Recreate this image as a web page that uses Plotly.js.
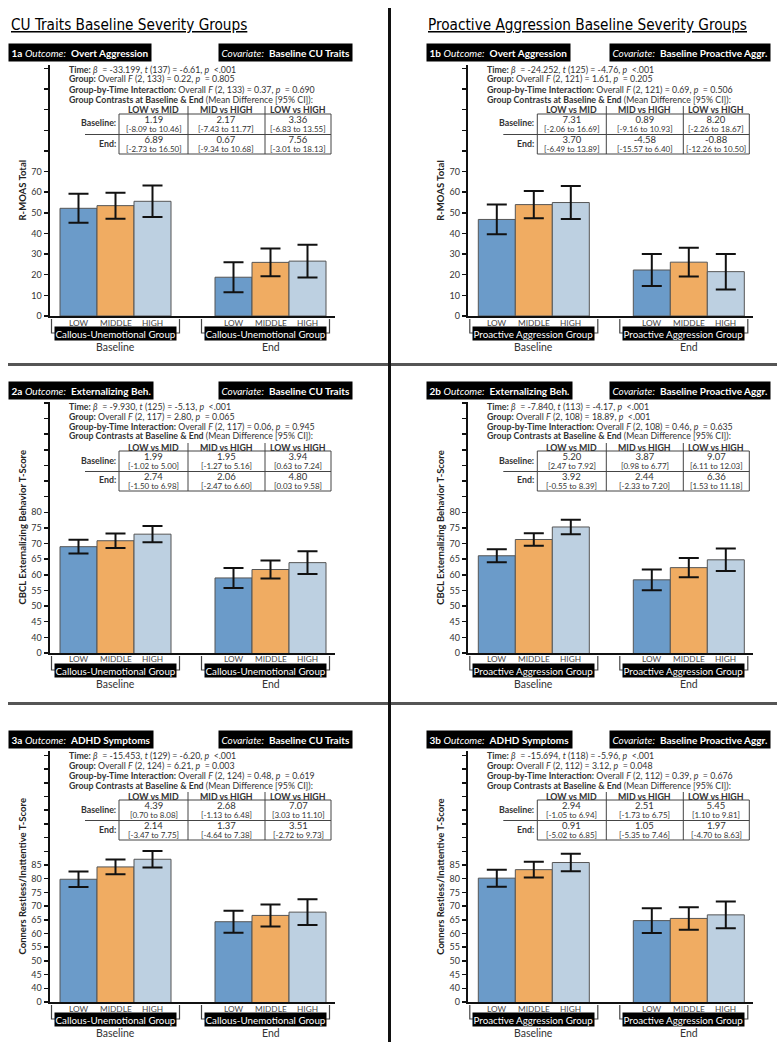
<!DOCTYPE html>
<html>
<head>
<meta charset="utf-8">
<script src="https://cdn.plot.ly/plotly-3.0.1.min.js"></script>
<style>
  html, body { margin: 0; padding: 0; background: #fff; }
  #chart { width: 777px; height: 1050px; }
</style>
</head>
<body>
<div id="chart"></div>
<script>
// panels in reading order: 1a, 1b, 2a, 2b, 3a, 3b
var panelIds = ['1a', '1b', '2a', '2b', '3a', '3b'];
var outcomes = ['Overt Aggression', 'Overt Aggression', 'Externalizing Beh.', 'Externalizing Beh.', 'ADHD Symptoms', 'ADHD Symptoms'];
var covariates = ['Baseline CU Traits', 'Baseline Proactive Aggr.'];
var columnTitles = ['CU Traits Baseline Severity Groups', 'Proactive Aggression Baseline Severity Groups'];
var groupTitles = ['Callous-Unemotional Group', 'Proactive Aggression Group'];
var yTitles = ['R-MOAS Total', 'CBCL Externalizing Behavior T-Score', 'Conners Restless/Inattentive T-Score'];
var groups = ['LOW', 'MIDDLE', 'HIGH'];
var times = ['Baseline', 'End'];
var contrastNames = ['LOW vs MID', 'MID vs HIGH', 'LOW vs HIGH'];

var tickLabels = [
  ['0', '10', '20', '30', '40', '50', '60', '70'],
  ['0', '40', '45', '50', '55', '60', '65', '70', '75', '80'],
  ['0', '40', '45', '50', '55', '60', '65', '70', '75', '80', '85']
];

// means [Baseline, End] per panel
var lowMeans  = [[52.2, 18.8], [46.8, 22.3], [69.0, 59.0], [66.1, 58.4], [79.8, 64.3], [80.2, 64.7]];
var midMeans  = [[53.5, 26.0], [54.0, 26.1], [70.9, 61.7], [71.3, 62.3], [84.3, 66.6], [83.3, 65.5]];
var highMeans = [[55.6, 26.6], [55.0, 21.5], [73.0, 63.9], [75.3, 64.8], [87.1, 67.8], [85.9, 66.8]];
var lowErr  = [[7.0, 7.3], [7.2, 7.8], [2.2, 3.2], [2.1, 3.3], [2.8, 4.0], [3.1, 4.5]];
var midErr  = [[6.3, 6.7], [6.6, 7.0], [2.3, 2.9], [2.0, 3.1], [2.7, 4.0], [2.9, 4.1]];
var highErr = [[7.6, 7.9], [8.0, 8.6], [2.6, 3.6], [2.3, 3.6], [3.0, 4.7], [3.2, 4.9]];

// model results: [beta, df, t, p]
var timeStats = [['-33.199', '137', '-6.61', '<.001'], ['-24.252', '125', '-4.76', '<.001'],
  ['-9.930', '125', '-5.13', '<.001'], ['-7.840', '113', '-4.17', '<.001'],
  ['-15.453', '129', '-6.20', '<.001'], ['-15.694', '118', '-5.96', '<.001']];
// [df, F, p]
var groupStats = [['2, 133', '0.22', '= 0.805'], ['2, 121', '1.61', '= 0.205'],
  ['2, 117', '2.80', '= 0.065'], ['2, 108', '18.89', '<.001'],
  ['2, 124', '6.21', '= 0.003'], ['2, 112', '3.12', '= 0.048']];
var interactionStats = [['2, 133', '0.37', '= 0.690'], ['2, 121', '0.69', '= 0.506'],
  ['2, 117', '0.06', '= 0.945'], ['2, 108', '0.46', '= 0.635'],
  ['2, 124', '0.48', '= 0.619'], ['2, 112', '0.39', '= 0.676']];

// group contrasts [diff, lower, upper] for LOW vs MID, MID vs HIGH, LOW vs HIGH
var contrastsBaseline = [
  [['1.19', '-8.09', '10.46'], ['2.17', '-7.43', '11.77'], ['3.36', '-6.83', '13.55']],
  [['7.31', '-2.06', '16.69'], ['0.89', '-9.16', '10.93'], ['8.20', '-2.26', '18.67']],
  [['1.99', '-1.02', '5.00'], ['1.95', '-1.27', '5.16'], ['3.94', '0.63', '7.24']],
  [['5.20', '2.47', '7.92'], ['3.87', '0.98', '6.77'], ['9.07', '6.11', '12.03']],
  [['4.39', '0.70', '8.08'], ['2.68', '-1.13', '6.48'], ['7.07', '3.03', '11.10']],
  [['2.94', '-1.05', '6.94'], ['2.51', '-1.73', '6.75'], ['5.45', '1.10', '9.81']]
];
var contrastsEnd = [
  [['6.89', '-2.73', '16.50'], ['0.67', '-9.34', '10.68'], ['7.56', '-3.01', '18.13']],
  [['3.70', '-6.49', '13.89'], ['-4.58', '-15.57', '6.40'], ['-0.88', '-12.26', '10.50']],
  [['2.74', '-1.50', '6.98'], ['2.06', '-2.47', '6.60'], ['4.80', '0.03', '9.58']],
  [['3.92', '-0.55', '8.39'], ['2.44', '-2.33', '7.20'], ['6.36', '1.53', '11.18']],
  [['2.14', '-3.47', '7.75'], ['1.37', '-4.64', '7.38'], ['3.51', '-2.72', '9.73']],
  [['0.91', '-5.02', '6.85'], ['1.05', '-5.35', '7.46'], ['1.97', '-4.70', '8.63']]
];

var means = [lowMeans, midMeans, highMeans];
var errs = [lowErr, midErr, highErr];
var barColors = ['#6b9bc9', '#f0ac62', '#bdd0e1'];

// page geometry (px)
var W = 777, H = 1050;
function px(x) { return x / W; }
function py(y) { return 1 - y / H; }
var FONT = 'Lato, "Open Sans", sans-serif';
var colShift = 418.3;
var rowBase = [316, 653, 1002];
var axisHeight = 251;
var yFloor = [0, 35, 35];
var yScale = [2.063, 3.127, 2.74];
var tickStep = [10, 5, 5];
var plotLeft = 49.5, plotRight = 335, catCenter = 115.5, catStep = 155, barPx = 37;
var tableCols = [153.5, 226.5, 298];

function txt(text, x, y, size, opts) {
  var a = {xref: 'paper', yref: 'paper', x: px(x), y: py(y), text: text, showarrow: false,
    xanchor: 'center', yanchor: 'middle', borderpad: 0,
    font: {family: FONT, size: size, color: '#333'}};
  for (var k in opts) a[k] = opts[k];
  return a;
}
function line(x0, y0, x1, y1, color, width) {
  return {type: 'line', xref: 'paper', yref: 'paper', x0: px(x0), y0: py(y0), x1: px(x1), y1: py(y1),
    line: {color: color, width: width}};
}
// value on one line, CI on the next, tightly stacked in one text block
function cell(v) {
  return '<span style="font-size:9.5px">' + v[0] + '</span><br><span style="font-size:8px">[' +
    v[1] + ' to ' + v[2] + ']</span>';
}

var data = [];
var layout = {
  width: W, height: H,
  margin: {l: 0, r: 0, t: 0, b: 0},
  paper_bgcolor: '#fff', plot_bgcolor: '#fff',
  barmode: 'group', bargap: 1 - 3 * barPx / catStep, bargroupgap: 0,
  showlegend: false,
  annotations: [], shapes: []
};
var ann = layout.annotations, shp = layout.shapes;

columnTitles.forEach(function (t, c) {
  ann.push(txt('<u>' + t + '</u>', 10 + c * 417, 25, 15.2,
    {xanchor: 'left', font: {family: '"DejaVu Sans Condensed", "Liberation Sans", sans-serif', size: 15.2, color: '#000'}}));
});

panelIds.forEach(function (id, i) {
  var row = Math.floor(i / 2), col = i % 2, dx = col * colShift, base = rowBase[row];
  var n = i + 1, sfx = n === 1 ? '' : String(n);

  // y ticks: labelled ones from tickLabels, then blank ticks up to the top
  var top = yFloor[row] + axisHeight / yScale[row];
  var tv = tickLabels[row].map(function (l) { return Math.max(Number(l), yFloor[row]); });
  var tt = tickLabels[row].slice();
  for (var v = tv[tv.length - 1] + tickStep[row]; v <= top; v += tickStep[row]) { tv.push(v); tt.push(''); }

  layout['xaxis' + sfx] = {
    domain: [px(plotLeft + dx), px(plotRight + dx)],
    type: 'category', categoryarray: times,
    range: [(plotLeft - catCenter) / catStep, (plotRight - catCenter) / catStep],
    showticklabels: false, ticks: '', showgrid: false, zeroline: false,
    showline: true, linecolor: '#111', linewidth: 2, anchor: 'y' + sfx, fixedrange: true
  };
  layout['yaxis' + sfx] = {
    domain: [py(base), py(base - axisHeight)],
    range: [yFloor[row], top],
    tickvals: tv, ticktext: tt, ticks: 'outside', ticklen: 4, tickwidth: 1.5, tickcolor: '#111',
    tickfont: {family: FONT, size: 9, color: '#333'},
    showgrid: false, zeroline: false, showline: true, linecolor: '#111', linewidth: 2,
    anchor: 'x' + sfx, fixedrange: true
  };

  groups.forEach(function (g, k) {
    data.push({
      type: 'bar', name: g, x: times, y: means[k][i],
      xaxis: 'x' + sfx, yaxis: 'y' + sfx,
      marker: {color: barColors[k], line: {color: '#555', width: 1}},
      error_y: {type: 'data', array: errs[k][i], color: '#111', thickness: 2, width: 10},
      hoverinfo: 'skip'
    });
  });

  // panel header boxes
  ann.push(txt('<b>' + id + '</b> <i>Outcome:</i>  <b>' + outcomes[i] + '</b>', 8 + dx, base - 263, 10,
    {xanchor: 'left', bgcolor: '#000', borderpad: 2.5, font: {family: FONT, size: 10, color: '#fff'}}));
  ann.push(txt('<i>Covariate:</i>  <b>' + covariates[col] + '</b>', 353 + dx, base - 263, 10,
    {xanchor: 'right', bgcolor: '#000', borderpad: 2.5, font: {family: FONT, size: 10, color: '#fff'}}));

  // model statistics
  var ts = timeStats[i], gs = groupStats[i], is = interactionStats[i];
  var lines = [
    '<b>Time:</b> <i>β</i>  = ' + ts[0] + ', <i>t</i> (' + ts[1] + ') = ' + ts[2] + ', <i>p</i>  ' + ts[3],
    '<b>Group:</b> Overall <i>F</i> (' + gs[0] + ') = ' + gs[1] + ', <i>p</i>  ' + gs[2],
    '<b>Group-by-Time Interaction:</b> Overall <i>F</i> (' + is[0] + ') = ' + is[1] + ', <i>p</i>  ' + is[2],
    '<b>Group Contrasts at Baseline &amp; End</b> (Mean Difference [95% CI]):'
  ];
  lines.forEach(function (l, k) {
    ann.push(txt(l, 68 + dx, base - 247 + k * 10, 8.8, {xanchor: 'left'}));
  });

  // contrast table
  contrastNames.forEach(function (c, k) {
    var cx = tableCols[k] + dx;
    ann.push(txt('<b>' + c + '</b>', cx, base - 206, 8.8));
    ann.push(txt(cell(contrastsBaseline[i][k]), cx, base - 192, 6.6));
    ann.push(txt(cell(contrastsEnd[i][k]), cx, base - 172, 6.6));
  });
  ann.push(txt('<b>Baseline:</b>', 117 + dx, base - 193, 8.8, {xanchor: 'right'}));
  ann.push(txt('<b>End:</b>', 117 + dx, base - 173, 8.8, {xanchor: 'right'}));
  shp.push({type: 'rect', xref: 'paper', yref: 'paper', x0: px(119 + dx), x1: px(331 + dx),
    y0: py(base - 202), y1: py(base - 162), line: {color: '#444', width: 1}});
  shp.push(line(85 + dx, base - 181.5, 331 + dx, base - 181.5, '#444', 1));
  shp.push(line(188 + dx, base - 210, 188 + dx, base - 162, '#444', 1));
  shp.push(line(265 + dx, base - 210, 265 + dx, base - 162, '#444', 1));

  // y title
  ann.push(txt('<b>' + yTitles[row] + '</b>', 22 + dx, base - axisHeight / 2, 9.5,
    {textangle: -90, font: {family: FONT, size: 9.5, color: '#222'}}));

  // category labels, group brackets and time labels
  times.forEach(function (t, ti) {
    var cpx = catCenter + ti * catStep + dx;
    groups.forEach(function (g, k) {
      ann.push(txt(g, cpx + (k - 1) * barPx, base + 6.5, 8.3, {font: {family: FONT, size: 8.3, color: '#444'}}));
    });
    var bc = cpx - ti * 5;
    shp.push({type: 'path', xref: 'paper', yref: 'paper',
      path: 'M' + px(bc - 64) + ',' + py(base + 3) + ' L' + px(bc - 64) + ',' + py(base + 17) +
        ' L' + px(bc + 64) + ',' + py(base + 17) + ' L' + px(bc + 64) + ',' + py(base + 3),
      line: {color: '#444', width: 1.2}});
    ann.push(txt(groupTitles[col], bc, base + 17.5, 9.8,
      {bgcolor: '#000', borderpad: 0.5, font: {family: FONT, size: 9.8, color: '#fff'}}));
    ann.push(txt(t, cpx, base + 30.5, 10.5, {font: {family: FONT, size: 10.5, color: '#333'}}));
  });
});

// frame separators
shp.push(line(8, 364.5, 777, 364.5, '#555', 3));
shp.push(line(8, 703.5, 777, 703.5, '#555', 3));
shp.push(line(389.5, 8, 389.5, 1042, '#111', 3));

Plotly.newPlot('chart', data, layout, {staticPlot: true});
</script>
</body>
</html>
